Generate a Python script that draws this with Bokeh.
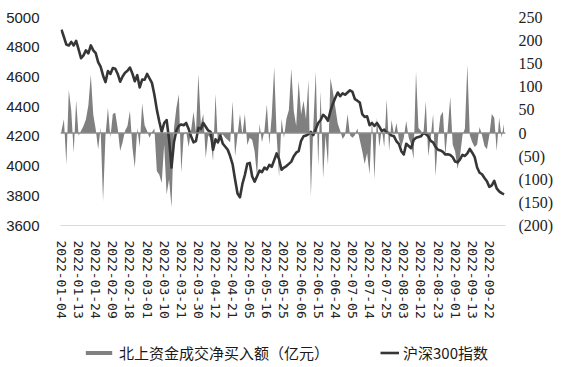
import pandas as pd
from bokeh.plotting import figure
from bokeh.layouts import column
from bokeh.models import (Range1d, LinearAxis, FixedTicker, Legend, LegendItem,
                          ColumnDataSource, Span)
from bokeh.embed import file_html
from bokeh.resources import INLINE

# ---- data ----
holidays = ["2022-01-31", "2022-02-01", "2022-02-02", "2022-02-03", "2022-02-04",
            "2022-04-04", "2022-04-05", "2022-05-02", "2022-05-03", "2022-05-04",
            "2022-06-03", "2022-09-12"]
trade_dates = [d.strftime("%Y-%m-%d") for d in
               pd.bdate_range("2022-01-04", "2022-09-30", freq="C", holidays=holidays)]

# 沪深300指数 (left axis)
csi300 = [
    4918, 4869, 4818, 4812, 4836, 4812, 4843, 4786, 4726, 4745,
    4779, 4759, 4812, 4779, 4760, 4700, 4669, 4610, 4565, 4640,
    4620, 4660, 4655, 4620, 4568, 4603, 4628, 4641, 4663, 4623,
    4571, 4612, 4529, 4582, 4581, 4620, 4590, 4560, 4480, 4380,
    4300, 4230, 4290, 4310, 4180, 3990, 4160, 4240, 4270, 4280,
    4275, 4290, 4250, 4200, 4160, 4168, 4257, 4250, 4290, 4265,
    4240, 4230, 4110, 4180, 4160, 4205, 4150, 4130, 4110, 4066,
    4011, 3910, 3815, 3790, 3880, 3940, 4016, 4021, 3930, 3895,
    3932, 3970, 3960, 3990, 3977, 4008, 3995, 4040, 4085, 4046,
    3975, 3990, 4000, 4015, 4030, 4066, 4090, 4100, 4170, 4200,
    4205, 4215, 4230, 4209, 4250, 4290, 4310, 4345, 4330, 4305,
    4370, 4420, 4460, 4495, 4470, 4490, 4480, 4495, 4510, 4500,
    4450, 4440, 4428, 4350, 4330, 4335, 4275, 4290, 4270, 4290,
    4265, 4235, 4245, 4225, 4222, 4205, 4200, 4167, 4150, 4100,
    4078, 4150, 4135, 4120, 4175, 4190, 4195, 4200, 4222, 4215,
    4200, 4170, 4160, 4130, 4110, 4105, 4095, 4078, 4080, 4075,
    4060, 4030, 4025, 4045, 4075, 4068, 4085, 4115, 4090, 4060,
    3990, 3955, 3945, 3920, 3898, 3860, 3870, 3900, 3850, 3830,
    3818, 3810]

# 北上资金成交净买入额（亿元） (right axis)
northbound = [
    5, 30, -68, 93, 48, -43, 71, -6, 5, 15,
    30, 60, 126, 40, 8, -35, 12, -148, -6, 55,
    -10, 41, 44, 10, -39, -20, 5, 15, 48, -30,
    -75, 11, -30, 64, 17, 5, -10, 2, 10, -82,
    -90, -108, -25, -133, -100, -161, 10, 55, 84, -86,
    -4, 3, -30, 5, 46, 2, 128, 19, 41, -54,
    -5, -12, -61, 85, -26, -5, -3, -10, -15, -20,
    69, -50, -5, 41, -5, 41, -26, -10, -15, -40,
    -95, 20, -20, 5, 62, -26, 38, 143, -5, -95,
    31, -10, 31, 50, 139, 48, 15, 113, 40, 70,
    30, 115, -137, 15, 133, -72, 91, -98, -5, -69,
    119, 90, 56, 20, 5, -13, -5, 41, -5, -10,
    -5, 10, -15, -39, -67, -43, -89, 31, -100, 33,
    -30, 10, -30, 73, -39, 28, -5, 22, -13, -30,
    -10, 26, -10, -25, -56, 133, 11, 5, -5, 69,
    -50, -10, 41, -93, -10, 37, 46, -48, 10, 78,
    -25, -40, -78, -50, -5, 10, 148, -5, -20, -30,
    -25, 13, -5, -28, -35, -5, 41, 33, -39, 33,
    -10, 20]

left_ticks = [3600, 3800, 4000, 4200, 4400, 4600, 4800, 5000]
right_ticks = [-200, -150, -100, -50, 0, 50, 100, 150, 200, 250]
right_labels = ["(200)", "(150)", "(100)", "(50)", "0", "50", "100", "150", "200", "250"]
label_step = 7

area_label = "北上资金成交净买入额（亿元）"
line_label = "沪深300指数"

AREA_COLOR = "#808080"
LINE_COLOR = "#363636"

n = min(len(trade_dates), len(csi300), len(northbound))
idx = list(range(n))
src = ColumnDataSource(dict(x=idx, idx=csi300[:n], nb=northbound[:n]))

p = figure(width=562, height=340, output_backend="svg", toolbar_location=None,
           x_range=Range1d(-0.4, n - 1 + 0.6), y_range=Range1d(3600, 5000),
           min_border_left=60, min_border_right=57, min_border_top=17,
           min_border_bottom=115)
p.outline_line_color = None
p.xgrid.visible = False
p.ygrid.visible = False
p.background_fill_color = "white"
p.border_fill_color = "white"

p.extra_y_ranges = {"r": Range1d(-200, 250)}

area = p.varea(x="x", y1=0, y2="nb", source=src, y_range_name="r",
               fill_color=AREA_COLOR)
p.add_layout(Span(location=0, dimension="width", y_range_name="r",
                  line_color="#8c8c8c", line_width=1.5))
line = p.line(x="x", y="idx", source=src, line_color=LINE_COLOR, line_width=2.6,
              line_join="round")

# x axis
xt = list(range(0, n, label_step))
xax = p.xaxis[0]
xax.ticker = FixedTicker(ticks=xt)
xax.major_label_overrides = {i: trade_dates[i] for i in xt}
xax.major_label_orientation = "vertical"
xax.major_label_text_font = "DejaVu Sans Mono"
xax.major_label_text_font_size = "13px"
xax.major_label_text_color = "#222222"
xax.major_label_standoff = 15
xax.axis_line_color = "#d9d9d9"
xax.major_tick_line_color = None
xax.minor_tick_line_color = None
xax.major_tick_out = 0
xax.major_tick_in = 0

# left axis
yax = p.yaxis[0]
yax.ticker = FixedTicker(ticks=left_ticks)
yax.major_label_text_font = "Liberation Sans"
yax.major_label_text_font_size = "15px"
yax.major_label_text_color = "#222222"
yax.major_label_standoff = 21
yax.axis_line_color = None
yax.major_tick_line_color = None
yax.minor_tick_line_color = None
yax.major_tick_out = 0
yax.major_tick_in = 0

# right axis
rax = LinearAxis(y_range_name="r", ticker=FixedTicker(ticks=right_ticks),
                 major_label_overrides={t: l for t, l in zip(right_ticks, right_labels)})
rax.major_label_text_font = "Liberation Serif"
rax.major_label_text_font_size = "16px"
rax.major_label_text_color = "#222222"
rax.major_label_standoff = 13
rax.axis_line_color = None
rax.major_tick_line_color = None
rax.minor_tick_line_color = None
rax.major_tick_out = 0
rax.major_tick_in = 0
p.add_layout(rax, "right")

# ---- legend strip (separate figure below the chart; its frame aligns with p's) ----
lg = figure(width=562, height=26, output_backend="svg", toolbar_location=None,
            min_border=0, x_range=Range1d(0, 1), y_range=Range1d(0, 1))
lg.axis.visible = False
lg.xgrid.visible = False
lg.ygrid.visible = False
lg.outline_line_color = None
lg.background_fill_color = "white"
lg.border_fill_color = "white"
r_area = lg.varea(x="x", y1=0, y2="nb", source=src, fill_color=AREA_COLOR,
                  visible=False)
r_line = lg.line(x="x", y="idx", source=src, line_color=LINE_COLOR,
                 line_width=2.6, visible=False)

common = dict(orientation="horizontal", padding=0, margin=0, spacing=0,
              border_line_color=None, background_fill_alpha=0,
              inactive_fill_alpha=0,
              label_text_font="Noto Sans CJK SC", label_text_font_size="15px",
              label_text_color="#1a1a1a", label_standoff=4, label_height=16)
leg1 = Legend(items=[LegendItem(label=area_label, renderers=[r_area])],
              location=(22, 3), glyph_width=33, glyph_height=5, **common)
leg2 = Legend(items=[LegendItem(label=line_label, renderers=[r_line])],
              location=(320, 3), glyph_width=19, glyph_height=9, **common)
lg.add_layout(leg1, "center")
lg.add_layout(leg2, "center")

layout = column(p, lg, spacing=0)
open("out.html", "w").write(file_html(layout, INLINE))
